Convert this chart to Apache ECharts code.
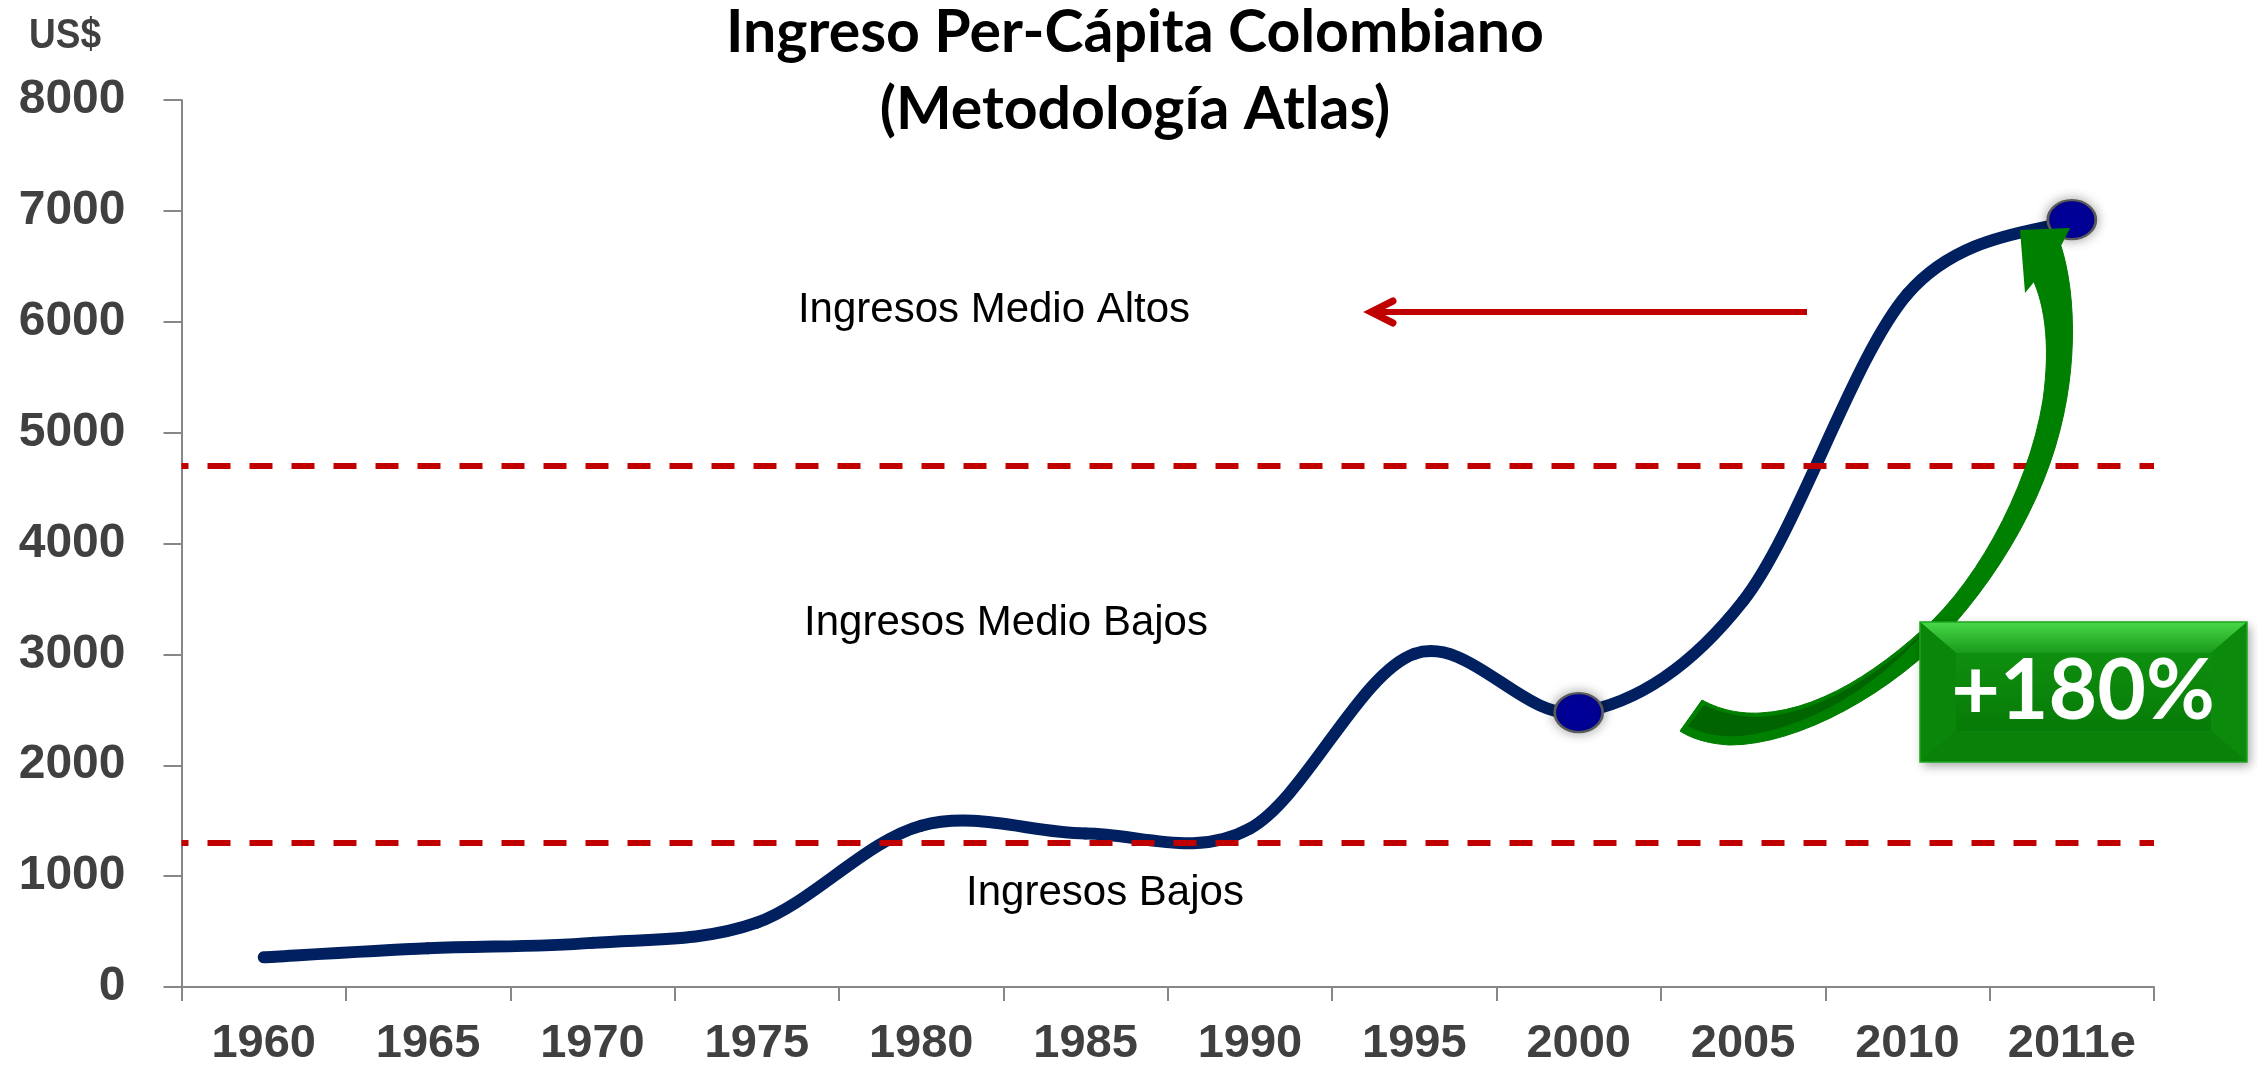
<!DOCTYPE html>
<html><head><meta charset="utf-8">
<script src="https://cdn.jsdelivr.net/npm/echarts@6/dist/echarts.min.js"></script>
<style>html,body{margin:0;padding:0;background:#fff}#c{width:2258px;height:1068px}</style>
</head><body><div id="c"></div>
<script>
// ---- data ----
const categories = ['1960','1965','1970','1975','1980','1985','1990','1995','2000','2005','2010','2011e'];
const incomeValues = [268, 349, 398, 580, 1455, 1385, 1430, 3005, 2475, 3480, 6250, 6920];
const markedIndices = [8, 11];
const thresholdLow = 1305;
const thresholdHigh = 4705;
const yMin = 0, yMax = 8000, yInterval = 1000;
const titleLines = ['Ingreso Per-Cápita Colombiano', '(Metodología Atlas)'];
const bandLabels = ['Ingresos Medio Altos', 'Ingresos Medio Bajos', 'Ingresos Bajos'];
const growthLabel = '+180%';
const unitLabel = 'US$';

// ---- chart ----
const chart = echarts.init(document.getElementById('c'));
const AX = '#878787', LBL = '#404040', RED = '#C00000', NAVY = '#002060';

function txt(text, x, y, font, fill, z, sy) {
  return { type: 'text', x: x, y: y, z: z || 50, silent: true, scaleY: sy || 1,
    style: { text: text, font: font, fill: fill,
      align: 'center', textAlign: 'center',
      verticalAlign: 'middle', textVerticalAlign: 'middle' } };
}

// decoration outline: start point followed by cubic segments [c1x,c1y,c2x,c2y,x,y] or line segments [x,y]
function outline(start, segs) {
  const pts = [start.slice()];
  let p = start;
  segs.forEach(s => {
    if (s.length === 2) { pts.push(s.slice()); p = s; return; }
    for (let k = 1; k <= 14; k++) {
      const t = k / 14, u = 1 - t;
      pts.push([u*u*u*p[0] + 3*u*u*t*s[0] + 3*u*t*t*s[2] + t*t*t*s[4],
                u*u*u*p[1] + 3*u*u*t*s[1] + 3*u*t*t*s[3] + t*t*t*s[5]]);
    }
    p = [s[4], s[5]];
  });
  return pts;
}

const greenBody = outline([2061, 246], [
  [2075,290, 2078,360, 2060,430], [2040,510, 1990,590, 1930,650],
  [1870,705, 1790,745, 1730,745], [1710,744, 1692,739, 1680,731], [1702,700],
  [1720,710, 1740,714, 1760,713], [1820,710, 1880,670, 1933,620],
  [1985,568, 2030,480, 2043,400], [2050,350, 2046,310, 2034,282], [2048,255]
]);
const greenDark = outline([1704, 705], [
  [1720,713, 1740,717, 1760,717], [1822,713, 1880,673, 1926,630],
  [1880,684, 1810,729, 1740,736], [1716,737, 1700,733, 1688,726]
]);
const greenHead = [[2020,230],[2070,228],[2061,246],[2042,292],[2034,282],[2025,293]];

// smooth line: one cubic segment per pair of categories (Catmull-Rom through the data points),
// positioned with the chart's own coordinate system
function renderSegment(params, api) {
  const i = params.dataIndex, n = incomeValues.length;
  if (i >= n - 1) return null;
  const P = k => { const j = Math.max(0, Math.min(n - 1, k)); return api.coord([j, incomeValues[j]]); };
  const p0 = P(i - 1), p1 = P(i), p2 = P(i + 1), p3 = P(i + 2);
  return {
    type: 'bezierCurve',
    shape: { x1: p1[0], y1: p1[1], x2: p2[0], y2: p2[1],
      cpx1: p1[0] + (p2[0] - p0[0]) / 6, cpy1: p1[1] + (p2[1] - p0[1]) / 6,
      cpx2: p2[0] - (p3[0] - p1[0]) / 6, cpy2: p2[1] - (p3[1] - p1[1]) / 6 },
    style: { stroke: NAVY, lineWidth: 12, fill: null, lineCap: 'round' },
    silent: true
  };
}

const BX = 1920, BY = 622, BW = 327, BH = 140, IX = 36, IY = 31;

const option = {
  animation: false,
  backgroundColor: '#ffffff',
  grid: { left: 181.5, right: 104, top: 100, bottom: 79.5, containLabel: false },
  xAxis: {
    type: 'category', data: categories, boundaryGap: true,
    axisLine: { show: true, lineStyle: { color: AX, width: 2 } },
    axisTick: { show: true, length: 14, lineStyle: { color: AX, width: 2 } },
    axisLabel: { fontFamily: 'Liberation Sans', fontWeight: 'bold', fontSize: 47, color: LBL, margin: 34, interval: 0 },
    splitLine: { show: false }
  },
  yAxis: {
    type: 'value', min: yMin, max: yMax, interval: yInterval,
    axisLine: { show: true, lineStyle: { color: AX, width: 2 } },
    axisTick: { show: true, length: 18, lineStyle: { color: AX, width: 2 } },
    axisLabel: { fontFamily: 'Liberation Sans', fontWeight: 'bold', fontSize: 48, color: LBL, margin: 56,
      formatter: v => String(v) },
    splitLine: { show: false }
  },
  series: [{
    type: 'custom', name: 'Ingreso per cápita',
    data: incomeValues.map((v, i) => [i, v]),
    encode: { x: 0, y: 1 },
    renderItem: renderSegment,
    z: 3
  }, {
    type: 'scatter',
    data: markedIndices.map(i => [i, incomeValues[i]]),
    symbol: 'circle', symbolSize: [48, 39],
    itemStyle: { color: '#000099', borderColor: '#5a5a5a', borderWidth: 2.5, opacity: 1,
      shadowBlur: 12, shadowColor: 'rgba(0,0,0,0.35)' },
    z: 4,
    markLine: {
      silent: true, symbol: ['none', 'none'], z: 5,
      label: { show: false },
      lineStyle: { color: RED, width: 6, type: [23, 19], dashOffset: 16 },
      data: [{ yAxis: thresholdLow }, { yAxis: thresholdHigh }]
    }
  }],
  graphic: [
    txt(unitLabel, 65, 36, 'bold 37px "Liberation Sans"', LBL, 50, 1.15),
    txt(titleLines[0], 1135, 33, 'bold 59px Lato', '#000'),
    txt(titleLines[1], 1135, 110, 'bold 59px Lato', '#000'),
    txt(bandLabels[0], 994, 310, '42px "Liberation Sans"', '#000'),
    txt(bandLabels[1], 1006, 623, '42px "Liberation Sans"', '#000'),
    txt(bandLabels[2], 1105, 893, '42px "Liberation Sans"', '#000'),
    // red arrow
    { type: 'polyline', z: 40, silent: true, shape: { points: [[1376,312],[1807,312]] },
      style: { stroke: RED, lineWidth: 6, fill: null } },
    { type: 'polyline', z: 40, silent: true, shape: { points: [[1393,301],[1371,312],[1393,323]] },
      style: { stroke: RED, lineWidth: 7, fill: null, lineCap: 'round', lineJoin: 'miter' } },
    // green curved arrow
    { type: 'polygon', z: 60, silent: true, shape: { points: greenBody },
      style: { fill: '#008000', stroke: '#007a00', lineWidth: 1 } },
    { type: 'polygon', z: 61, silent: true, shape: { points: greenDark },
      style: { fill: '#006400' } },
    { type: 'polygon', z: 62, silent: true, shape: { points: greenHead },
      style: { fill: '#008000' } },
    // +180% box (bevelled)
    { type: 'rect', z: 70, silent: true, shape: { x: BX, y: BY, width: BW, height: BH },
      style: { fill: '#077d07', shadowBlur: 10, shadowOffsetX: 3, shadowOffsetY: 4, shadowColor: 'rgba(0,0,0,0.35)' } },
    { type: 'polygon', z: 71, silent: true,
      shape: { points: [[BX,BY],[BX+IX,BY+IY],[BX+BW-IX,BY+IY],[BX+BW,BY]] },
      style: { fill: { type: 'linear', x: 0, y: 0, x2: 0, y2: 1, colorStops: [
        { offset: 0, color: '#48d848' }, { offset: 1, color: '#1a9a1a' } ] } } },
    { type: 'polygon', z: 71, silent: true,
      shape: { points: [[BX,BY],[BX+IX,BY+IY],[BX+IX,BY+BH-IY],[BX,BY+BH]] },
      style: { fill: '#0a860a' } },
    { type: 'polygon', z: 71, silent: true,
      shape: { points: [[BX+BW,BY],[BX+BW-IX,BY+IY],[BX+BW-IX,BY+BH-IY],[BX+BW,BY+BH]] },
      style: { fill: '#0c8a0c' } },
    { type: 'polygon', z: 71, silent: true,
      shape: { points: [[BX,BY+BH],[BX+IX,BY+BH-IY],[BX+BW-IX,BY+BH-IY],[BX+BW,BY+BH]] },
      style: { fill: '#0a820a' } },
    { type: 'rect', z: 71, silent: true,
      shape: { x: BX+IX, y: BY+IY, width: BW-2*IX, height: BH-2*IY },
      style: { fill: { type: 'linear', x: 0, y: 0, x2: 0, y2: 1, colorStops: [
        { offset: 0, color: '#0f8f0f' }, { offset: 1, color: '#077b07' } ] } } },
    { type: 'rect', z: 72, silent: true, shape: { x: BX, y: BY, width: BW, height: BH },
      style: { fill: null, stroke: '#1fa51f', lineWidth: 1.5 } },
    txt(growthLabel, 2083, 692, 'bold 84px Lato', '#ffffff', 80)
  ]
};
chart.setOption(option);
</script>
</body></html>
